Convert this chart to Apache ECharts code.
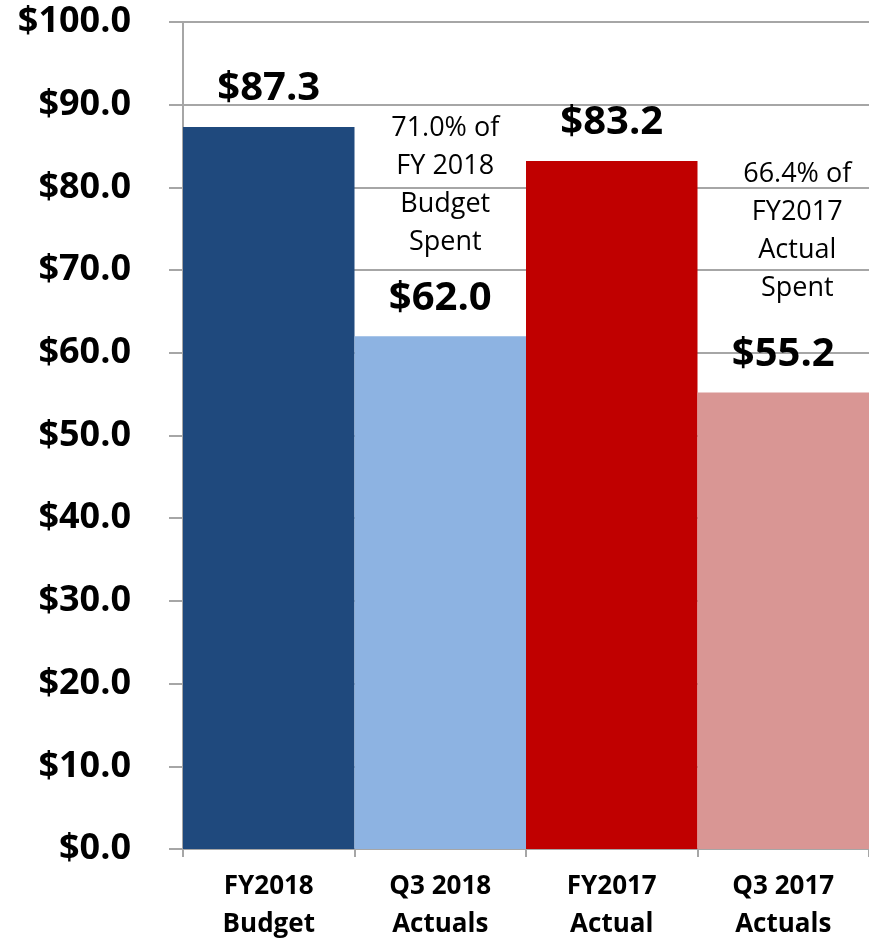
<!DOCTYPE html>
<html>
<head>
<meta charset="utf-8">
<script src="https://cdn.jsdelivr.net/npm/echarts@6/dist/echarts.min.js"></script>
<style>
html, body { margin: 0; padding: 0; background: #fff; }
#chart { width: 869px; height: 938px; }
</style>
</head>
<body>
<div id="chart"></div>
<script>
var categories = ["FY2018\nBudget", "Q3 2018\nActuals", "FY2017\nActual", "Q3 2017\nActuals"];
var values = [87.3, 62.0, 83.2, 55.2];
var barColors = ["#1F497D", "#8DB3E2", "#C00000", "#D99694"];
var notes = ["", "71.0% of\nFY 2018\nBudget\nSpent", "", "66.4% of\nFY2017\nActual\nSpent"];

var font = "Open Sans";
var gridColor = "#A6A6A6";
var noteShift = [0, 10, 0, 28]; // push the note text a bit to the right
var noteGap = [0, 12, 0, 22];   // space between note and value

var chart = echarts.init(document.getElementById("chart"));

function money(v) {
	return "$" + v.toFixed(1);
}

var barData = [];
for (var i = 0; i < values.length; i++) {
	barData.push({
		value: values[i],
		itemStyle: { color: barColors[i] },
		label: {
			rich: {
				n: { fontFamily: font, fontSize: 27, lineHeight: 38, color: "#000", padding: [0, 0, 0, noteShift[i]] },
				g: { fontSize: 1, lineHeight: noteGap[i] },
				v: { fontFamily: font, fontSize: 40, fontWeight: "bold", lineHeight: 50, color: "#000" }
			}
		}
	});
}

var option = {
	animation: false,
	backgroundColor: "#fff",
	grid: { left: 183, right: 0, top: 22, bottom: 89, outerBoundsMode: "none" },
	xAxis: {
		type: "category",
		data: categories,
		axisLine: { show: true, lineStyle: { color: gridColor, width: 2 } },
		axisTick: { show: true, length: 8, interval: 0, lineStyle: { color: gridColor, width: 2 } },
		axisLabel: {
			interval: 0,
			margin: 19,
			fontFamily: font,
			fontSize: 26,
			fontWeight: "bold",
			lineHeight: 38,
			color: "#000"
		}
	},
	yAxis: {
		type: "value",
		min: 0,
		max: 100,
		interval: 10,
		axisLine: { show: true, lineStyle: { color: gridColor, width: 2 } },
		axisTick: { show: true, length: 14, lineStyle: { color: gridColor, width: 2 } },
		splitLine: { show: true, lineStyle: { color: gridColor, width: 2 } },
		axisLabel: {
			margin: 52,
			fontFamily: font,
			fontSize: 36,
			fontWeight: "bold",
			color: "#000",
			formatter: money
		}
	},
	series: [{
		type: "bar",
		barCategoryGap: 0,
		data: barData,
		label: {
			show: true,
			position: "top",
			distance: 13,
			formatter: function(p) {
				var s = "";
				if (notes[p.dataIndex]) {
					s += "{n|" + notes[p.dataIndex] + "}\n{g| }\n";
				}
				return s + "{v|" + money(p.value) + "}";
			}
		}
	}]
};

chart.setOption(option);
</script>
</body>
</html>
